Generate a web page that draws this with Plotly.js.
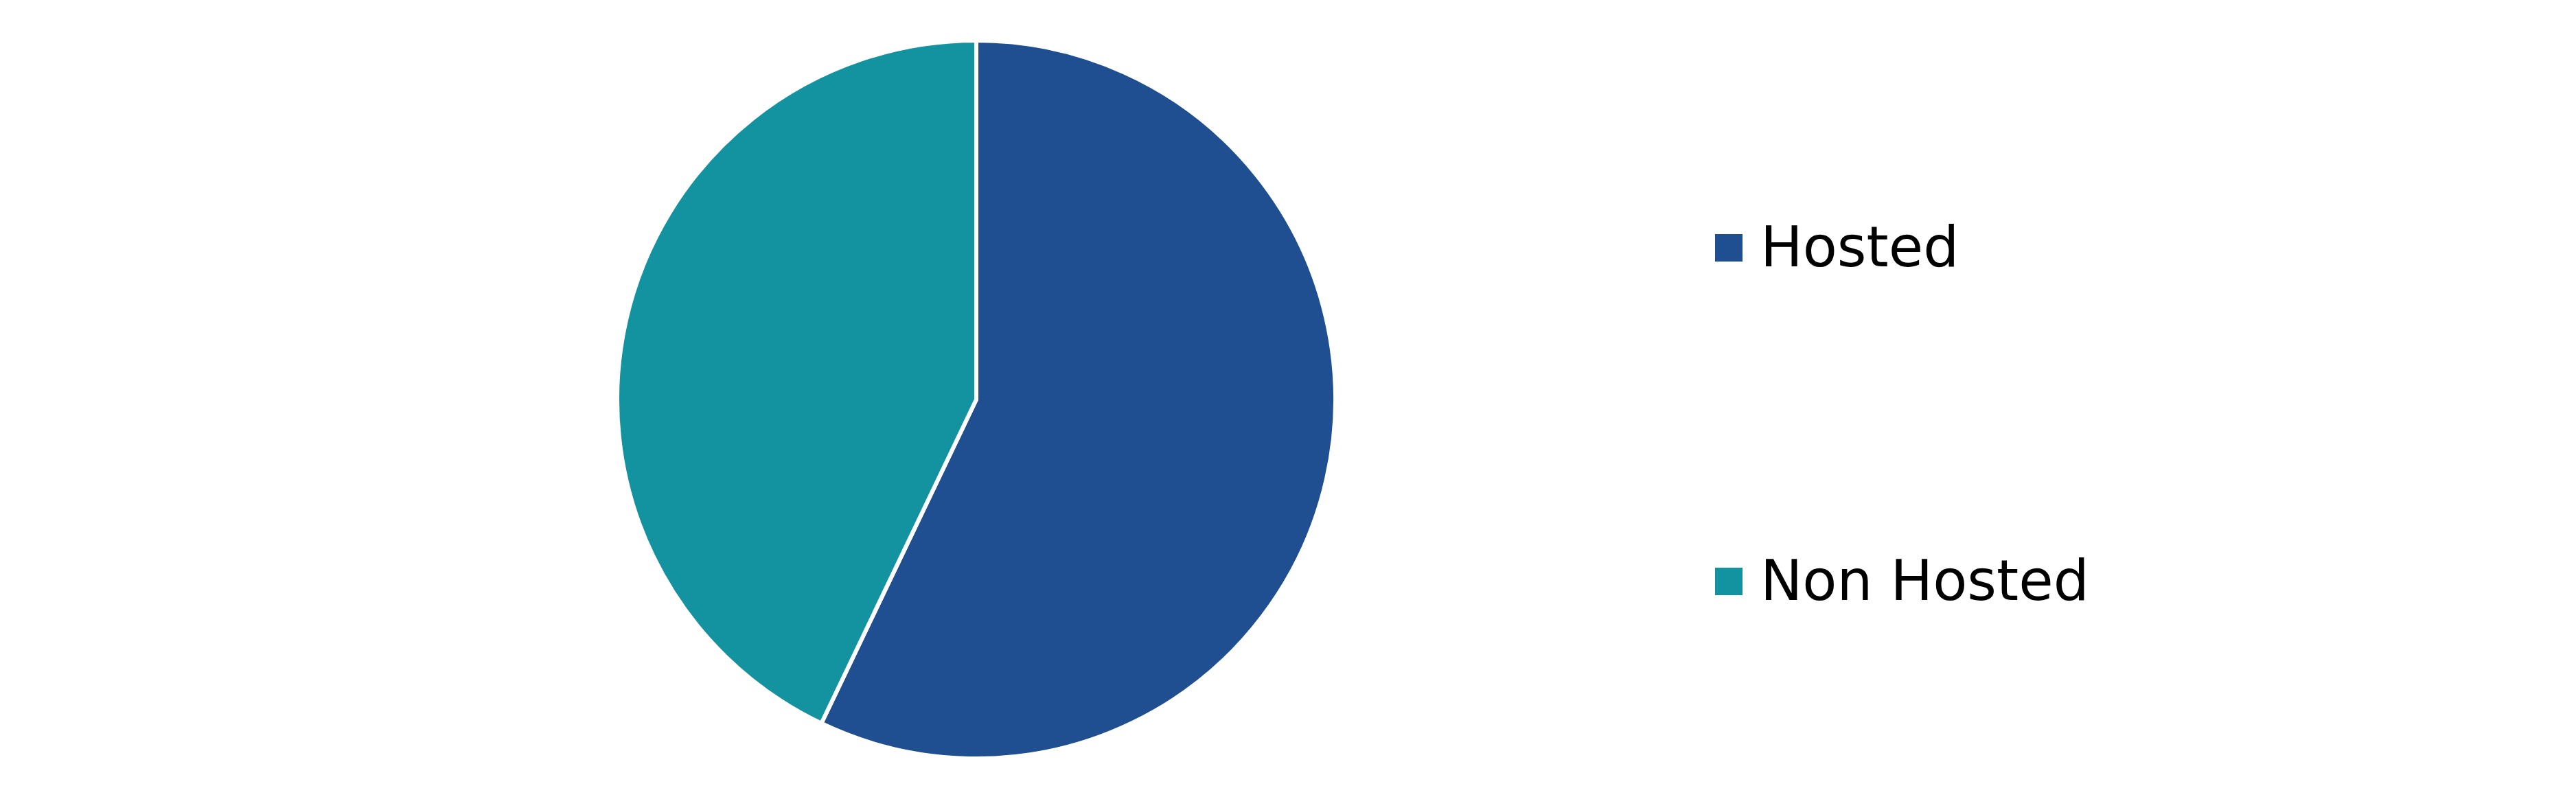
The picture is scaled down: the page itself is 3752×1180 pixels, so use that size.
<!DOCTYPE html>
<html>
<head>
<meta charset="utf-8">
<script src="https://cdn.plot.ly/plotly-3.0.1.min.js"></script>
<style>
  html, body { margin: 0; padding: 0; background: #fff; }
  #chart { width: 3752px; height: 1180px; }
</style>
</head>
<body>
<div id="chart"></div>
<script>
// data
const labels = ['Hosted', 'Non Hosted'];
const values = [57.1, 42.9];
const colors = ['#1F4F91', '#1392A0'];

const W = 3752, H = 1180;

// legend rows (pixel centres), drawn next to the pie
const legendX = 2498;
const legendRowY = [361, 847];
const boxSize = 40;

const pie = {
  type: 'pie',
  labels: labels,
  values: values,
  sort: false,
  direction: 'clockwise',
  rotation: 0,
  textinfo: 'none',
  hoverinfo: 'label+percent',
  marker: { colors: colors, line: { color: '#ffffff', width: 6 } },
  domain: { x: [899 / W, 1945 / W], y: [1 - 1105 / H, 1 - 59 / H] },
  showlegend: false,
};

const shapes = labels.map((lab, i) => ({
  type: 'rect',
  xref: 'paper', yref: 'paper',
  x0: legendX / W, x1: (legendX + boxSize) / W,
  y0: 1 - (legendRowY[i] + boxSize / 2) / H,
  y1: 1 - (legendRowY[i] - boxSize / 2) / H,
  fillcolor: colors[i],
  line: { width: 0 },
}));

const annotations = labels.map((lab, i) => ({
  text: lab,
  xref: 'paper', yref: 'paper',
  x: (legendX + boxSize + 24) / W,
  y: 1 - (legendRowY[i] - 2) / H,
  xanchor: 'left', yanchor: 'middle',
  showarrow: false,
  font: { family: 'DejaVu Sans', size: 82, color: '#000000' },
}));

const layout = {
  width: W,
  height: H,
  margin: { l: 0, r: 0, t: 0, b: 0 },
  paper_bgcolor: '#ffffff',
  showlegend: false,
  shapes: shapes,
  annotations: annotations,
};

Plotly.newPlot('chart', [pie], layout, { displayModeBar: false, staticPlot: true });
</script>
</body>
</html>
